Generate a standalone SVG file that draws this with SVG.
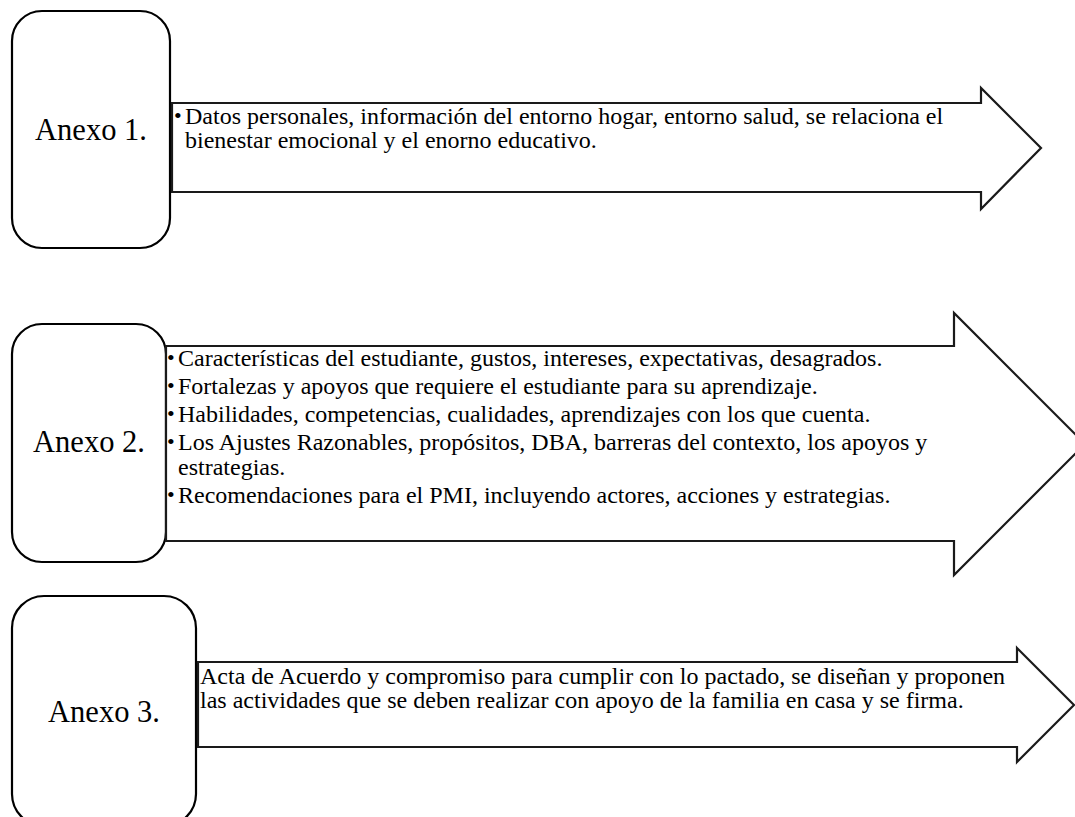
<svg xmlns="http://www.w3.org/2000/svg" width="1075" height="817" viewBox="0 0 1075 817">
<style>
.box{fill:#fff;stroke:#000;stroke-width:2.2}
.arr{fill:#fff;stroke:#1a1a1a;stroke-width:2.2;stroke-linejoin:miter}
.lbl{font-family:"Liberation Serif","Times New Roman",serif;font-size:30.5px;fill:#000;text-anchor:middle}
.txt{font-family:"Liberation Serif","Times New Roman",serif;font-size:24px;fill:#000}
.bul{font-family:"Liberation Serif","Times New Roman",serif;font-size:22px;fill:#000}
</style>
<rect width="1075" height="817" fill="#fff"/>
<g id="anexo1">
<rect class="box" x="12" y="11" width="158" height="237" rx="30"/>
<text class="lbl" x="91" y="140">Anexo 1.</text>
</g>
<g id="arrow1">
<polygon class="arr" points="172,103 981,103 981,88 1041,148 981,209 981,192 172,192"/>
<text class="bul" x="174" y="123">•</text>
<text class="txt" x="185" y="124">Datos personales, información del entorno hogar, entorno salud, se relaciona el</text>
<text class="txt" x="185" y="148">bienestar emocional y el enorno educativo.</text>
</g>
<g id="anexo2">
<rect class="box" x="12" y="324" width="154" height="238" rx="30"/>
<text class="lbl" x="89" y="452">Anexo 2.</text>
</g>
<g id="arrow2">
<polygon class="arr" points="166,346 954,346 954,313 1085,444 954,575 954,541 166,541"/>
<text class="bul" x="167" y="365">•</text>
<text class="txt" x="178" y="366">Características del estudiante, gustos, intereses, expectativas, desagrados.</text>
<text class="bul" x="167" y="393">•</text>
<text class="txt" x="178" y="394">Fortalezas y apoyos que requiere el estudiante para su aprendizaje.</text>
<text class="bul" x="167" y="421">•</text>
<text class="txt" x="178" y="422">Habilidades, competencias, cualidades, aprendizajes con los que cuenta.</text>
<text class="bul" x="167" y="449">•</text>
<text class="txt" x="178" y="450">Los Ajustes Razonables, propósitos, DBA, barreras del contexto, los apoyos y</text>
<text class="txt" x="178" y="475">estrategias.</text>
<text class="bul" x="167" y="502">•</text>
<text class="txt" x="178" y="503">Recomendaciones para el PMI, incluyendo actores, acciones y estrategias.</text>
</g>
<g id="anexo3">
<rect class="box" x="12" y="596" width="184" height="230" rx="32"/>
<text class="lbl" x="104" y="722">Anexo 3.</text>
</g>
<g id="arrow3">
<polygon class="arr" points="198,662 1017,662 1017,648 1074,705 1017,762 1017,747 198,747"/>
<text class="txt" x="200" y="684">Acta de Acuerdo y compromiso para cumplir con lo pactado, se diseñan y proponen</text>
<text class="txt" x="200" y="708">las actividades que se deben realizar con apoyo de la familia en casa y se firma.</text>
</g>
<g id="connectors"/>
</svg>
